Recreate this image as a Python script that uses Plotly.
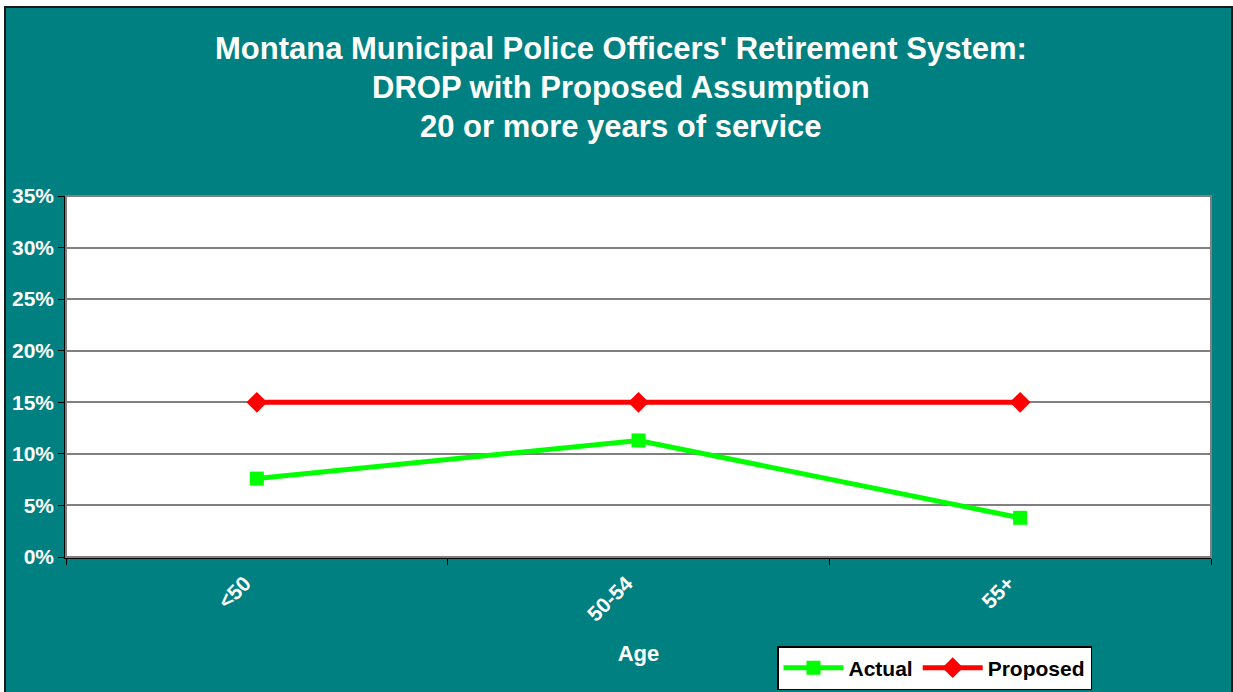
import plotly.graph_objects as go

categories = ["<50", "50-54", "55+"]
actual = [0.076, 0.113, 0.038]
proposed = [0.15, 0.15, 0.15]
y_ticks = [0, 0.05, 0.10, 0.15, 0.20, 0.25, 0.30, 0.35]
y_tick_labels = ["0%", "5%", "10%", "15%", "20%", "25%", "30%", "35%"]
title_lines = [
    "Montana Municipal Police Officers' Retirement System:",
    "DROP with Proposed Assumption",
    "20 or more years of service",
]

W, H = 1233, 692
L, R, T, B = 66, 22, 196, 135
pw, ph = W - L - R, H - T - B
FONT = "Liberation Sans, Arial, sans-serif"
TEAL = "#008080"

def px_x(x):
    return (x - L) / pw

def px_y(y):
    return (H - B - y) / ph

fig = go.Figure()
fig.add_trace(go.Scatter(
    x=categories, y=actual, name="Actual", mode="lines+markers",
    line=dict(color="#00FF00", width=5),
    marker=dict(symbol="square", size=14, color="#00FF00"),
))
fig.add_trace(go.Scatter(
    x=categories, y=proposed, name="Proposed", mode="lines+markers",
    line=dict(color="#FF0000", width=5),
    marker=dict(symbol="diamond", size=16, color="#FF0000"),
))

shapes = [
    dict(type="rect", xref="paper", yref="paper", layer="below",
         x0=px_x(5), x1=px_x(1232), y0=px_y(705), y1=px_y(7),
         fillcolor=TEAL, line=dict(color="#1a1a1a", width=2)),
    dict(type="rect", xref="paper", yref="paper", layer="below",
         x0=0, x1=1, y0=0, y1=1, fillcolor="white", line=dict(width=0)),
    dict(type="rect", xref="paper", yref="paper", layer="above",
         x0=0, x1=1, y0=0, y1=1, line=dict(color="#808080", width=2)),
]

annotations = []
for i, line in enumerate(title_lines):
    annotations.append(dict(
        text=line, xref="paper", yref="paper", x=px_x(621), y=px_y([49, 88, 126][i]),
        xanchor="center", yanchor="middle", showarrow=False,
        font=dict(family=FONT, size=31, color="white", weight="bold"),
    ))

fig.update_layout(
    width=W, height=H,
    margin=dict(l=L, r=R, t=T, b=B, pad=0, autoexpand=False),
    paper_bgcolor="white",
    plot_bgcolor="white",
    showlegend=True,
    legend=dict(
        orientation="h", x=px_x(777), y=px_y(690), xanchor="left", yanchor="bottom",
        bgcolor="white", bordercolor="black", borderwidth=1.5,
        font=dict(family=FONT, size=21, color="black", weight="bold"),
        itemwidth=60, tracegroupgap=0, itemclick=False,
    ),
    shapes=shapes,
    annotations=annotations,
    xaxis=dict(
        type="category", range=[-0.5, 2.5], automargin=False,
        showgrid=False, zeroline=False,
        showline=True, linecolor="black", linewidth=1.5,
        ticks="outside", ticklen=6, tickcolor="black", tickson="boundaries",
        tickangle=-45, ticklabelstandoff=4, ticklabelshift=-12,
        tickfont=dict(family=FONT, size=21, color="white", weight="bold"),
        title=dict(text="Age", standoff=21,
                   font=dict(family=FONT, size=22, color="white", weight="bold")),
    ),
    yaxis=dict(
        range=[0, 0.35], tickvals=y_ticks, ticktext=y_tick_labels, automargin=False,
        showgrid=True, gridcolor="#808080", gridwidth=1.5,
        zeroline=False,
        showline=True, linecolor="black", linewidth=1.5,
        ticks="outside", ticklen=6, tickcolor="black",
        tickfont=dict(family=FONT, size=21, color="white", weight="bold"),
    ),
)

fig.write_html("out.html", config={"displayModeBar": False},
               post_script="document.body.style.margin='0';")
